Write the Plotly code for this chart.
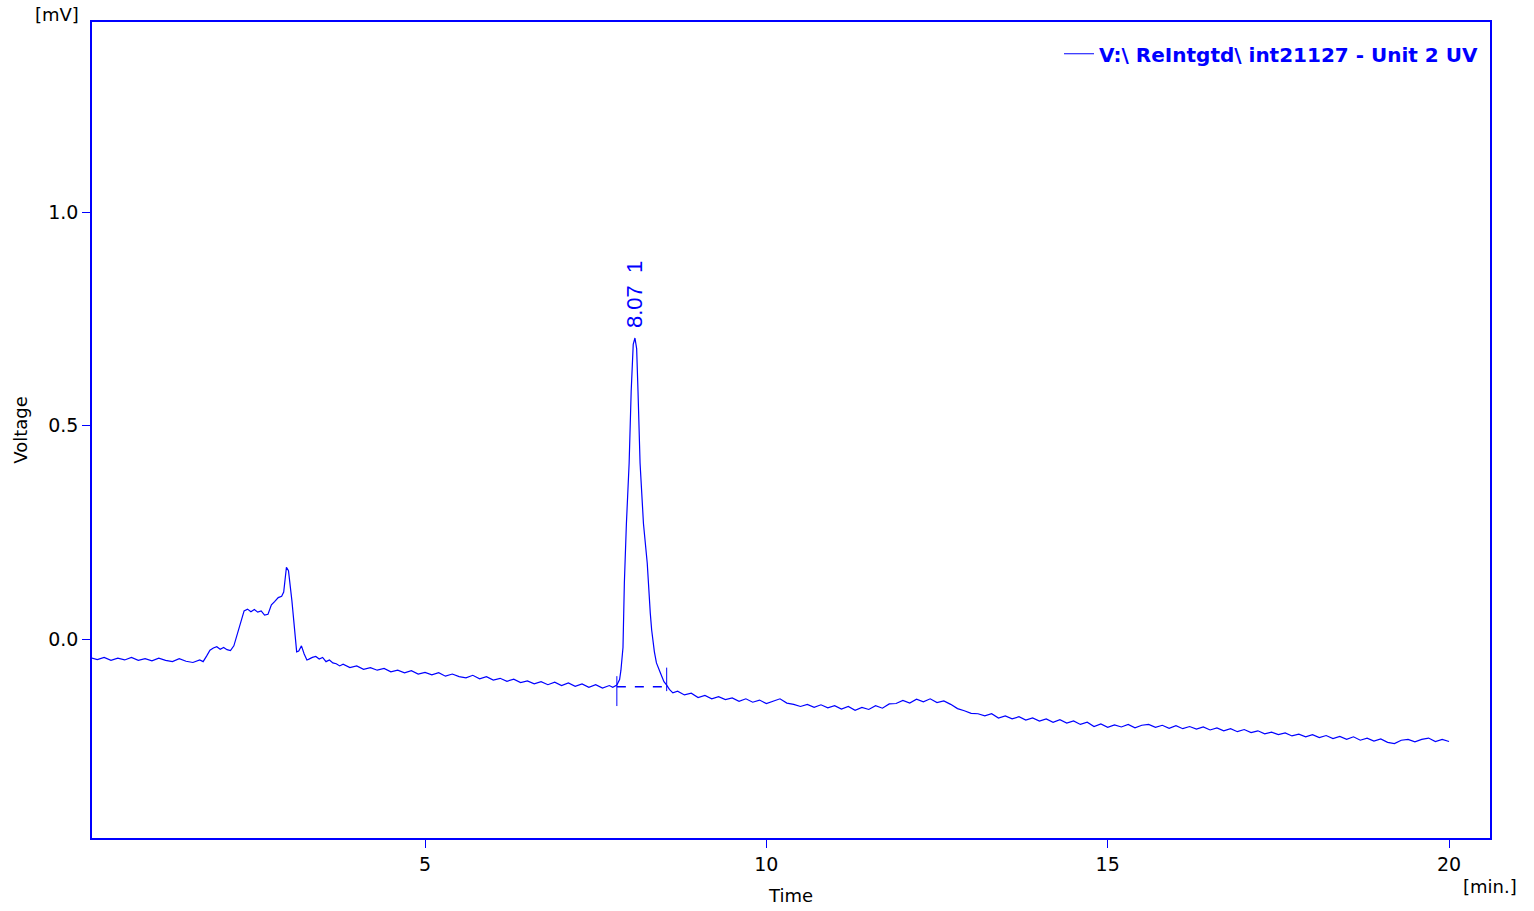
import plotly.graph_objects as go

# ---- data ----
time_min = [
    0.1, 0.2, 0.3, 0.4, 0.5, 0.6, 0.7, 0.8, 0.9, 1.0, 1.1, 1.2, 1.3, 1.4, 1.5, 1.6, 1.7, 1.75,
    1.8, 1.85, 1.9, 1.95, 2.0, 2.05, 2.1, 2.15, 2.2, 2.25, 2.3, 2.35, 2.4, 2.45, 2.5, 2.55,
    2.6, 2.65, 2.7, 2.75, 2.8, 2.85, 2.9, 2.93, 2.97, 3.0, 3.05, 3.1, 3.12, 3.15, 3.19, 3.23,
    3.27, 3.3, 3.35, 3.4, 3.45, 3.5, 3.55, 3.6, 3.65, 3.7, 3.75, 3.8, 3.9, 4.0, 4.1, 4.2,
    4.3, 4.4, 4.5, 4.6, 4.7, 4.8, 4.9, 5.0, 5.1, 5.2, 5.3, 5.4, 5.5, 5.6, 5.7, 5.8, 5.9,
    6.0, 6.1, 6.2, 6.3, 6.4, 6.5, 6.6, 6.7, 6.8, 6.9, 7.0, 7.1, 7.2, 7.3, 7.4, 7.5, 7.6,
    7.7, 7.75, 7.81, 7.85, 7.87, 7.9, 7.92, 7.95, 7.99, 8.02, 8.05, 8.075, 8.1, 8.12, 8.15,
    8.2, 8.255, 8.3, 8.32, 8.36, 8.39, 8.45, 8.5, 8.54, 8.58, 8.63, 8.7, 8.8, 8.9, 9.0, 9.1,
    9.2, 9.3, 9.4, 9.5, 9.6, 9.7, 9.8, 9.9, 10.0, 10.1, 10.2, 10.3, 10.4, 10.5, 10.6, 10.7,
    10.8, 10.9, 11.0, 11.1, 11.2, 11.3, 11.4, 11.5, 11.6, 11.7, 11.8, 11.9, 12.0, 12.1, 12.2,
    12.3, 12.4, 12.5, 12.6, 12.7, 12.8, 12.9, 13.0, 13.1, 13.2, 13.3, 13.4, 13.5, 13.6, 13.7,
    13.8, 13.9, 14.0, 14.1, 14.2, 14.3, 14.4, 14.5, 14.6, 14.7, 14.8, 14.9, 15.0, 15.1, 15.2,
    15.3, 15.4, 15.5, 15.6, 15.7, 15.8, 15.9, 16.0, 16.1, 16.2, 16.3, 16.4, 16.5, 16.6, 16.7,
    16.8, 16.9, 17.0, 17.1, 17.2, 17.3, 17.4, 17.5, 17.6, 17.7, 17.8, 17.9, 18.0, 18.1, 18.2,
    18.3, 18.4, 18.5, 18.6, 18.7, 18.8, 18.9, 19.0, 19.1, 19.2, 19.3, 19.4, 19.5, 19.6, 19.7,
    19.8, 19.9, 20.0,
]
voltage_mv = [
    -0.044, -0.048, -0.043, -0.050, -0.045, -0.049, -0.043, -0.050, -0.046, -0.051, -0.045, -0.050, -0.053, -0.046, -0.052, -0.055, -0.049, -0.053,
    -0.040, -0.026, -0.021, -0.018, -0.024, -0.020, -0.025, -0.027, -0.016, 0.010, 0.040, 0.066, 0.070, 0.064, 0.069, 0.063,
    0.066, 0.056, 0.058, 0.080, 0.088, 0.097, 0.100, 0.110, 0.168, 0.160, 0.090, 0.000, -0.030, -0.028, -0.016, -0.035,
    -0.049, -0.047, -0.043, -0.041, -0.047, -0.043, -0.053, -0.049, -0.056, -0.058, -0.063, -0.059, -0.067, -0.063, -0.071, -0.067,
    -0.073, -0.069, -0.077, -0.073, -0.079, -0.074, -0.082, -0.078, -0.084, -0.079, -0.087, -0.082, -0.088, -0.091, -0.085, -0.093, -0.088,
    -0.096, -0.092, -0.099, -0.094, -0.102, -0.098, -0.105, -0.100, -0.107, -0.101, -0.109, -0.103, -0.111, -0.105, -0.113, -0.107, -0.115,
    -0.109, -0.113, -0.108, -0.095, -0.073, -0.020, 0.131, 0.270, 0.412, 0.580, 0.690, 0.705, 0.680, 0.580, 0.412,
    0.270, 0.178, 0.060, 0.021, -0.030, -0.056, -0.080, -0.100, -0.108, -0.118, -0.126, -0.122, -0.131, -0.127, -0.137, -0.132,
    -0.140, -0.135, -0.142, -0.138, -0.146, -0.140, -0.148, -0.143, -0.151, -0.145, -0.140, -0.150, -0.153, -0.158, -0.153, -0.160,
    -0.154, -0.161, -0.156, -0.164, -0.158, -0.167, -0.160, -0.165, -0.156, -0.162, -0.152, -0.151, -0.144, -0.150, -0.141,
    -0.147, -0.140, -0.149, -0.145, -0.153, -0.163, -0.168, -0.174, -0.175, -0.180, -0.175, -0.185, -0.180, -0.187, -0.182,
    -0.190, -0.185, -0.192, -0.187, -0.195, -0.189, -0.197, -0.192, -0.200, -0.195, -0.205, -0.199, -0.207, -0.201, -0.206,
    -0.200, -0.208, -0.202, -0.200, -0.207, -0.202, -0.209, -0.203, -0.210, -0.205, -0.211, -0.206, -0.213, -0.208, -0.215,
    -0.210, -0.217, -0.212, -0.219, -0.215, -0.222, -0.218, -0.224, -0.220, -0.227, -0.223, -0.229, -0.224, -0.231, -0.226,
    -0.233, -0.228, -0.235, -0.229, -0.237, -0.232, -0.239, -0.234, -0.242, -0.245, -0.237, -0.235, -0.241, -0.235, -0.232,
    -0.240, -0.235, -0.240,
]

peak_rt = [8.07]
peak_height = [0.705]
peak_number = ["1"]
peak_start = [7.81]
peak_end = [8.54]
peak_baseline = [-0.112]
x_ticks = [5, 10, 15, 20]
y_ticks = [0.0, 0.5, 1.0]
y_tick_labels = ["0.0", "0.5", "1.0"]
series_name = "V:\\ ReIntgtd\\ int21127 - Unit 2 UV"

BLUE = "#0000ff"

fig = go.Figure()
fig.add_trace(go.Scatter(
    x=time_min, y=voltage_mv, mode="lines", name=series_name,
    line=dict(color=BLUE, width=1.2),
))

# integration baseline (dashed) and start/end markers
for s, e, b in zip(peak_start, peak_end, peak_baseline):
    fig.add_shape(type="line", x0=s, x1=e, y0=b, y1=b,
                  line=dict(color=BLUE, width=1.5, dash="dash"))
    fig.add_shape(type="line", x0=s, x1=s, y0=b - 0.045, y1=b + 0.025,
                  line=dict(color=BLUE, width=1))
    fig.add_shape(type="line", x0=e, x1=e, y0=b - 0.01, y1=b + 0.045,
                  line=dict(color=BLUE, width=1))

for rt, h, n in zip(peak_rt, peak_height, peak_number):
    fig.add_annotation(x=rt, y=h, text=f"{rt:.2f}  {n}", textangle=-90,
                       showarrow=False, yanchor="bottom", yshift=8,
                       font=dict(family="Liberation Sans", size=22, color=BLUE))

fig.add_annotation(xref="paper", yref="paper", x=-0.008, y=1.0, yshift=8,
                   text="[mV]", showarrow=False, xanchor="right", yanchor="middle",
                   font=dict(family="DejaVu Sans", size=18, color="black"))
fig.add_annotation(xref="paper", yref="paper", x=1.0, y=0, yshift=-48,
                   text="[min.]", showarrow=False, xanchor="center", yanchor="middle",
                   font=dict(family="DejaVu Sans", size=18, color="black"))

axis_common = dict(
    showline=True, linecolor=BLUE, linewidth=1.5, mirror=True,
    showgrid=False, zeroline=False, ticks="outside", ticklen=8,
    tickcolor=BLUE, tickwidth=1.2, automargin=False,
    tickfont=dict(family="DejaVu Sans", size=19, color="black"),
)

fig.update_layout(
    width=1534, height=911,
    paper_bgcolor="white", plot_bgcolor="white",
    margin=dict(l=92, r=44, t=22, b=73),
    showlegend=True,
    legend=dict(x=0.995, y=0.985, xanchor="right", yanchor="top",
                bgcolor="rgba(0,0,0,0)", itemwidth=30,
                font=dict(family="DejaVu Sans", size=20, color=BLUE, weight="bold")),
    xaxis=dict(range=[0.122, 20.6], tickvals=x_ticks,
               title=dict(text="Time", standoff=16,
                          font=dict(family="DejaVu Sans", size=18, color="black")),
               **axis_common),
    yaxis=dict(range=[-0.466, 1.445], tickvals=y_ticks, ticktext=y_tick_labels,
               title=dict(text="Voltage", standoff=16,
                          font=dict(family="DejaVu Sans", size=18, color="black")),
               **axis_common),
)

fig.write_html("out.html", config={"displayModeBar": False},
               post_script="document.body.style.margin='0';document.body.style.overflow='hidden';")
